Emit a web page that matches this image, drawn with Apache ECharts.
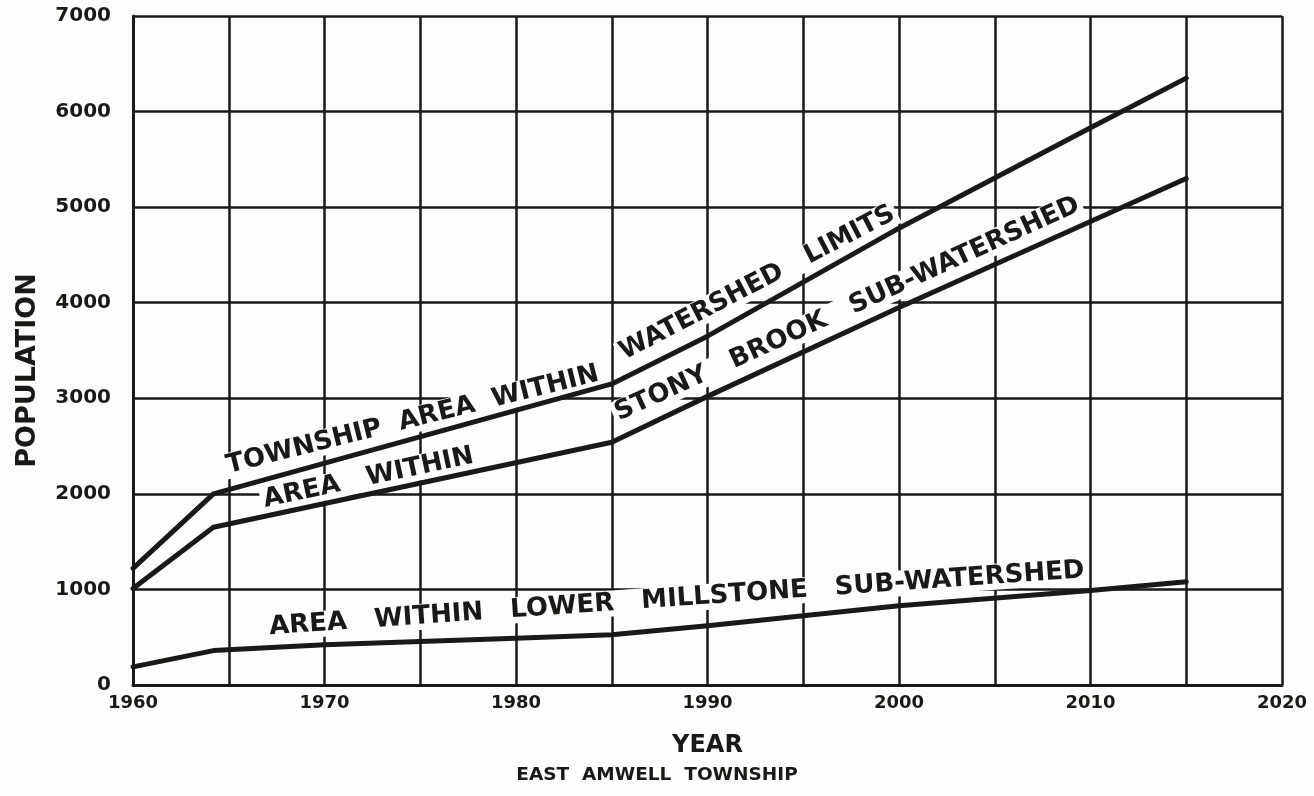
<!DOCTYPE html>
<html>
<head>
<meta charset="utf-8">
<script src="https://cdn.jsdelivr.net/npm/echarts@6/dist/echarts.min.js"></script>
<style>
html,body{margin:0;padding:0;background:#fdfdfb;}
#c{width:1314px;height:796px;}
</style>
</head>
<body>
<div id="c"></div>
<script>
// ---- data ----
const townshipYears = [1960, 1964.2, 1985, 1990, 2000, 2010, 2015];
const townshipPop   = [1220, 2000, 3150, 3650, 4780, 5830, 6350];
const stonyYears    = [1960, 1964.2, 1985, 1990, 2000, 2010, 2015];
const stonyPop      = [1010, 1650, 2540, 3020, 3950, 4850, 5300];
const lowerYears    = [1960, 1964.2, 1970, 1980, 1985, 1990, 2000, 2010, 2015];
const lowerPop      = [190, 360, 420, 490, 525, 620, 830, 990, 1080];

// curve annotations (text, anchor year, anchor population, angle in degrees)
const labelTexts  = ['TOWNSHIP  AREA  WITHIN', 'WATERSHED   LIMITS', 'AREA   WITHIN',
                     'STONY   BROOK   SUB-WATERSHED', 'AREA   WITHIN   LOWER   MILLSTONE   SUB-WATERSHED'];
const labelYears  = [1974.6, 1992.6, 1972.3, 1997.3, 1988.4];
const labelPops   = [2772, 4205, 2165, 3933, 900];
const labelAngles = [14, 27.5, 12, 24.5, 4.0];

const xMin = 1960, xMax = 2020, xStep = 5;
const yMin = 0, yMax = 7000, yStep = 1000;

const ink = '#1b1917';
const paper = '#fdfdfb';
const font = '"DejaVu Sans", Verdana, sans-serif';

function pairs(xs, ys){ return xs.map((x,i)=>[x, ys[i]]); }
function lineSeries(name, xs, ys){
  return {
    name, type: 'line', data: pairs(xs, ys), symbol: 'none', smooth: false,
    lineStyle: {color: ink, width: 5, cap: 'round', join: 'round', opacity: 1},
    z: 4, silent: true
  };
}

const labelSeries = {
  name: 'annotations', type: 'scatter', symbolSize: 0, z: 2, silent: true,
  itemStyle: {opacity: 1, color: ink},
  data: labelTexts.map((t, i) => ({
    value: [labelYears[i], labelPops[i]],
    itemStyle: {opacity: 1},
    label: {
      show: true, formatter: t, rotate: labelAngles[i], position: 'inside',
      color: ink, opacity: 1, fontFamily: font, fontWeight: 'bold', fontSize: 26,
      backgroundColor: paper, padding: [0, 3]
    }
  }))
};

const chart = echarts.init(document.getElementById('c'), null, {renderer: 'canvas'});
chart.setOption({
  backgroundColor: paper,
  animation: false,
  title: {
    text: 'EAST  AMWELL  TOWNSHIP', left: 'center', bottom: 6,
    textStyle: {color: ink, fontFamily: font, fontWeight: 'bold', fontSize: 18.5}
  },
  grid: {left: 133, right: 32, top: 16, bottom: 111, show: false},
  xAxis: {
    type: 'value', min: xMin, max: xMax, interval: xStep,
    name: 'YEAR', nameLocation: 'middle', nameGap: 49,
    nameTextStyle: {color: ink, fontFamily: font, fontWeight: 'bold', fontSize: 24},
    axisLine: {show: true, lineStyle: {color: ink, width: 3}},
    axisTick: {show: false},
    axisLabel: {
      color: ink, fontFamily: font, fontWeight: 'bold', fontSize: 18, margin: 9,
      formatter: v => (v % 10 === 0 ? String(v) : '')
    },
    splitLine: {show: true, lineStyle: {color: ink, width: 2.5}}
  },
  yAxis: {
    type: 'value', min: yMin, max: yMax, interval: yStep,
    name: 'POPULATION', nameLocation: 'middle', nameGap: 92, nameRotate: 90,
    nameTextStyle: {color: ink, fontFamily: font, fontWeight: 'bold', fontSize: 27, padding: [0, 0, 0, -40]},
    axisLine: {show: true, lineStyle: {color: ink, width: 3}},
    axisTick: {show: false},
    axisLabel: {
      color: ink, fontFamily: font, fontWeight: 'bold', fontSize: 20, margin: 22,
      formatter: v => String(v)
    },
    splitLine: {show: true, lineStyle: {color: ink, width: 2.5}}
  },
  series: [
    labelSeries,
    lineSeries('Township area within watershed limits', townshipYears, townshipPop),
    lineSeries('Stony Brook sub-watershed', stonyYears, stonyPop),
    lineSeries('Lower Millstone sub-watershed', lowerYears, lowerPop)
  ]
});
</script>
</body>
</html>
